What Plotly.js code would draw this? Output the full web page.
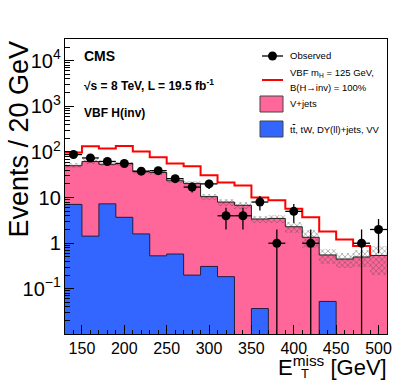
<!DOCTYPE html>
<html><head><meta charset="utf-8">
<script src="https://cdn.plot.ly/plotly-3.0.1.min.js"></script>
<style>html,body{margin:0;padding:0;background:#fff}#chart{width:407px;height:383px}</style>
</head><body><div id="chart"></div>
<script>
// ---- data ----
const binCenters = [140,160,180,200,220,240,260,280,300,320,340,360,380,400,420,440,460,480,500];
const binWidth = 20;
const otherBkg = [7.1,1.43,7.3,3.7,1.6,0.53,0.58,0.2,0.31,0.185,0,0.037,0,0,0,0.053,0,0,0];
const vJets = [42.9,60.6,46.7,52.3,35.4,35.0,22.9,20.3,10.2,7.8,6.8,3.36,3.5,2.3,1.35,0.5,0.45,0.5,0.54];
const bkgErr = [6,6.5,5.5,5.5,4,4,3,2.8,1.5,1.4,1.2,0.65,0.75,0.65,0.58,0.2,0.17,0.2,0.34];
const signalPlusBkg = [97,133,119,135,102,77,56,48.5,31,21.5,18.5,10,8.8,5.7,3.7,1.8,1.2,0.87];
const observed = [88,74,62,56,38,39,26,17,20,4,4,8,1,5,1,null,null,1,2];
const obsErrUp = [9.4,8.6,7.9,7.5,6.2,6.2,5.1,4.1,4.5,2,2,2.8,1,2.2,1,null,null,1,1.4];
const obsErrDown = [9.4,8.6,7.9,7.5,6.2,6.2,5.1,4.1,4.5,2,2,2.8,0.99,2.2,0.99,null,null,0.99,1.4];

// ---- colours / style ----
const PINK = '#ff6699';
const BLUE = '#3366ff';
const FONT = 'Liberation Sans, Arial, Helvetica, sans-serif';

// stacked total (library-side stacking for overlay bars)
const totalBkg = vJets.map((v,i)=>v+otherBkg[i]);
const edges = binCenters.map(c=>c-binWidth/2).concat([binCenters[binCenters.length-1]+binWidth/2]);
function stepY(vals, floor){ const a = vals.map(v=> (v>0?v:floor)); return a.concat([a[a.length-1]]); }

const traces = [];
traces.push({type:'bar', x:binCenters, y:totalBkg, width:binWidth, marker:{color:PINK, line:{width:0}}, hoverinfo:'skip', showlegend:false});
traces.push({type:'bar', x:binCenters, y:otherBkg, width:binWidth, marker:{color:BLUE, line:{width:0}}, hoverinfo:'skip', showlegend:false});
traces.push({type:'scatter', mode:'lines', x:edges, y:stepY(otherBkg,1e-4), line:{shape:'hv', color:'#202040', width:1}, hoverinfo:'skip', showlegend:false});
traces.push({type:'bar', x:binCenters, base:totalBkg.map((v,i)=>v-bkgErr[i]), y:bkgErr.map(e=>2*e), width:binWidth,
  marker:{color:'rgba(0,0,0,0)', line:{width:0}, pattern:{shape:'x', size:4, solidity:0.25, fgcolor:'rgba(70,70,70,0.75)', bgcolor:'rgba(0,0,0,0)', fillmode:'replace'}},
  hoverinfo:'skip', showlegend:false});
traces.push({type:'scatter', mode:'lines', x:edges, y:stepY(totalBkg,1e-4), line:{shape:'hv', color:'#222', width:1}, hoverinfo:'skip', showlegend:false});
// signal + background red line (ends at 490, drops to background)
const nS = signalPlusBkg.length;
const redX = edges.slice(0,nS).concat([edges[nS], edges[nS]]);
const redY = signalPlusBkg.concat([signalPlusBkg[nS-1], totalBkg[nS]]);
traces.push({type:'scatter', mode:'lines', x:redX, y:redY, line:{shape:'hv', color:'#ff0000', width:2}, hoverinfo:'skip', showlegend:false});
traces.push({type:'scatter', mode:'markers', x:binCenters, y:observed,
  marker:{color:'#000', size:9},
  error_y:{type:'data', symmetric:false, array:obsErrUp, arrayminus:obsErrDown, color:'#000', thickness:1.3, width:0},
  error_x:{type:'constant', value:binWidth/2, color:'#000', thickness:1.3, width:0},
  hoverinfo:'skip', showlegend:false});

// pixel -> paper helpers for text / legend placement
const L=65, R=387, T=39, B=334;
const px = v => (v-L)/(R-L);
const py = v => (B-v)/(B-T);

const annotations = [
  {text:'Events / 20 GeV', x:px(18), y:py(39), xref:'paper', yref:'paper', xanchor:'center', yanchor:'top', textangle:-90, showarrow:false, font:{family:FONT, size:27, color:'#000'}},
  {text:'E<sup>miss</sup> [GeV]', x:px(389), y:py(366), xref:'paper', yref:'paper', xanchor:'right', yanchor:'middle', showarrow:false, font:{family:FONT, size:22, color:'#000'}},
  {text:'T', x:px(299), y:py(373), xref:'paper', yref:'paper', xanchor:'left', yanchor:'middle', showarrow:false, font:{family:FONT, size:13, color:'#000'}},
  {text:'<b>CMS</b>', x:px(82), y:py(56), xref:'paper', yref:'paper', xanchor:'left', yanchor:'middle', showarrow:false, font:{family:FONT, size:14, color:'#000'}},
  {text:'<b>√s = 8 TeV, L = 19.5 fb<sup>-1</sup></b>', x:px(82), y:py(85), xref:'paper', yref:'paper', xanchor:'left', yanchor:'middle', showarrow:false, font:{family:FONT, size:12, color:'#000'}},
  {text:'<b>VBF H(inv)</b>', x:px(82), y:py(113), xref:'paper', yref:'paper', xanchor:'left', yanchor:'middle', showarrow:false, font:{family:FONT, size:12, color:'#000'}},
  {text:'Observed', x:px(288), y:py(56), xref:'paper', yref:'paper', xanchor:'left', yanchor:'middle', showarrow:false, font:{family:FONT, size:9.5, color:'#000'}},
  {text:'VBF m<sub>H</sub> = 125 GeV,', x:px(288), y:py(73), xref:'paper', yref:'paper', xanchor:'left', yanchor:'middle', showarrow:false, font:{family:FONT, size:9.5, color:'#000'}},
  {text:'B(H→inv) = 100%', x:px(288), y:py(87), xref:'paper', yref:'paper', xanchor:'left', yanchor:'middle', showarrow:false, font:{family:FONT, size:9.5, color:'#000'}},
  {text:'V+jets', x:px(288), y:py(104), xref:'paper', yref:'paper', xanchor:'left', yanchor:'middle', showarrow:false, font:{family:FONT, size:9.5, color:'#000'}},
  {text:'t<span style="text-decoration:overline">t</span>, tW, DY(ll)+jets, VV', x:px(288), y:py(129), xref:'paper', yref:'paper', xanchor:'left', yanchor:'middle', showarrow:false, font:{family:FONT, size:9.5, color:'#000'}}
];
const shapes = [
  {type:'line', xref:'paper', yref:'paper', x0:px(262), x1:px(283), y0:py(56), y1:py(56), line:{color:'#000', width:1.3}},
  {type:'circle', xref:'paper', yref:'paper', x0:px(268), x1:px(277), y0:py(60.5), y1:py(51.5), fillcolor:'#000', line:{color:'#000', width:0}},
  {type:'line', xref:'paper', yref:'paper', x0:px(262), x1:px(283), y0:py(80), y1:py(80), line:{color:'#ff0000', width:2}},
  {type:'rect', xref:'paper', yref:'paper', x0:px(260), x1:px(283), y0:py(112), y1:py(96), fillcolor:PINK, line:{color:'#444', width:1}},
  {type:'rect', xref:'paper', yref:'paper', x0:px(260), x1:px(283), y0:py(137), y1:py(121), fillcolor:BLUE, line:{color:'#444', width:1}}
];

const layout = {
  width:407, height:383,
  margin:{l:L, r:407-R, t:T, b:383-B, pad:0},
  paper_bgcolor:'#fff', plot_bgcolor:'#fff',
  barmode:'overlay', bargap:0,
  showlegend:false,
  font:{family:FONT, color:'#000'},
  xaxis:{range:[130,510], tick0:0, dtick:50, ticks:'inside', ticklen:9, tickwidth:1, tickcolor:'#000',
    showline:true, linecolor:'#000', linewidth:1, mirror:true, showgrid:false, zeroline:false,
    tickfont:{family:FONT, size:16, color:'#000'},
    minor:{ticks:'inside', ticklen:4.5, dtick:10, tickcolor:'#000', showgrid:false}},
  yaxis:{type:'log', range:[-1.99, Math.log10(30000)], dtick:1, exponentformat:'power', ticks:'inside', ticklen:9, tickwidth:1, tickcolor:'#000',
    showline:true, linecolor:'#000', linewidth:1, mirror:true, showgrid:false, zeroline:false,
    tickfont:{family:FONT, size:16, color:'#000'},
    minor:{ticks:'inside', ticklen:4.5, dtick:'D1', tickcolor:'#000', showgrid:false}},
  annotations:annotations,
  shapes:shapes
};
Plotly.newPlot('chart', traces, layout, {staticPlot:true, displayModeBar:false});
</script>
</body></html>
